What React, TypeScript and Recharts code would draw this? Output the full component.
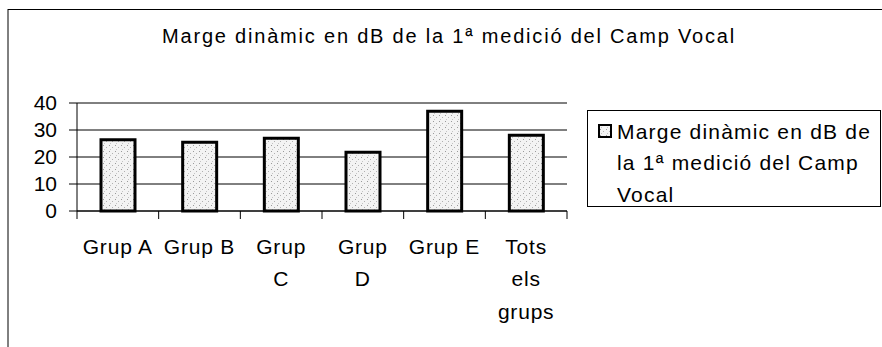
import { BarChart, Bar, XAxis, YAxis, CartesianGrid, Legend } from 'recharts'

const categories = ['Grup A', 'Grup B', 'Grup C', 'Grup D', 'Grup E', 'Tots els grups']
const tickLabelLines = [['Grup A'], ['Grup B'], ['Grup', 'C'], ['Grup', 'D'], ['Grup E'], ['Tots', 'els', 'grups']]
const values = [26.4, 25.5, 26.9, 21.8, 36.9, 28.1]
const yTicks = [0, 10, 20, 30, 40]
const seriesName = 'Marge dinàmic en dB de la 1ª medició del Camp Vocal'
const legendLines = ['Marge dinàmic en dB de', 'la 1ª medició del Camp', 'Vocal']

const data = categories.map((name, i) => ({ name, value: values[i] }))

const FONT = 'Arial, "Liberation Sans", sans-serif'

function CategoryTick(props: any) {
  const { x, y, payload, index, visibleTicksCount } = props
  const half = payload?.offset ?? 0
  const lines = tickLabelLines[index] ?? [String(payload.value)]
  return (
    <g>
      <line x1={x - half} x2={x - half} y1={y} y2={y + 8} stroke="#000" />
      {index === visibleTicksCount - 1 && (
        <line x1={x + half} x2={x + half} y1={y} y2={y + 8} stroke="#000" />
      )}
      <text x={x} y={y + 42.5} textAnchor="middle" fontSize={21} letterSpacing={0.8} fontFamily={FONT} fill="#000">
        {lines.map((l, i) => (
          <tspan key={i} x={x} dy={i === 0 ? 0 : 32.5}>
            {l}
          </tspan>
        ))}
      </text>
    </g>
  )
}

function LegendBox() {
  return (
    <svg width={294} height={97} style={{ display: 'block' }}>
      <rect x={0.5} y={0.5} width={293} height={96} fill="#fff" stroke="#000" />
      <rect x={12} y={15} width={12} height={12} fill="url(#stipple)" stroke="#000" strokeWidth={2} />
      {legendLines.map((l, i) => (
        <text key={i} x={30} y={28.5 + i * 31.5} fontSize={21} letterSpacing={1.2} fontFamily={FONT} fill="#000">
          {l}
        </text>
      ))}
    </svg>
  )
}

export default function App() {
  return (
    <div style={{ position: 'absolute', left: 0, top: 0, width: 882, height: 347, background: '#fff' }}>
      <BarChart
        width={882}
        height={347}
        data={data}
        margin={{ top: 103, right: 315, left: 0, bottom: 0 }}
      >
        <defs>
          <pattern id="stipple" width="6" height="6" patternUnits="userSpaceOnUse">
            <rect width="6" height="6" fill="#f3f3f3" />
            <rect x="1" y="1" width="1" height="1" fill="#9a9a9a" />
            <rect x="4" y="3" width="1" height="1" fill="#b0b0b0" />
            <rect x="2" y="5" width="1" height="1" fill="#c4c4c4" />
          </pattern>
        </defs>
        <CartesianGrid vertical={false} stroke="#000" yAxisId="left" />
        <XAxis
          dataKey="name"
          height={136}
          tickSize={0}
          tickMargin={0}
          tickLine={false}
          axisLine={{ stroke: '#000' }}
          tick={<CategoryTick />}
          interval={0}
        />
        <YAxis
          yAxisId="left"
          width={77}
          domain={[0, 40]}
          ticks={yTicks}
          interval={0}
          tickSize={8}
          tickMargin={12}
          axisLine={{ stroke: '#000' }}
          tickLine={{ stroke: '#000' }}
          tick={{ fontSize: 21, fill: '#000', fontFamily: FONT }}
        />
        <YAxis
          yAxisId="right"
          orientation="right"
          width={0}
          tick={false}
          tickLine={false}
          axisLine={{ stroke: '#000' }}
        />
        <Legend
          layout="horizontal"
          verticalAlign="middle"
          align="center"
          wrapperStyle={{ left: 587, top: 110, width: 294, height: 97 }}
          content={() => <LegendBox />}
        />
        <Bar
          yAxisId="left"
          dataKey="value"
          name={seriesName}
          fill="url(#stipple)"
          stroke="#000"
          strokeWidth={3}
          barSize={34}
          isAnimationActive={false}
        />
      </BarChart>
      <svg
        width={882}
        height={347}
        style={{ position: 'absolute', left: 0, top: 0, pointerEvents: 'none' }}
      >
        <line x1={8} y1={9.5} x2={882} y2={9.5} stroke="#000" />
        <line x1={8} y1={9} x2={8} y2={347} stroke="#000" />
        <text x={449} y={43} textAnchor="middle" fontSize={20} letterSpacing={1.8} fontFamily={FONT} fill="#000">
          {seriesName}
        </text>
      </svg>
    </div>
  )
}
